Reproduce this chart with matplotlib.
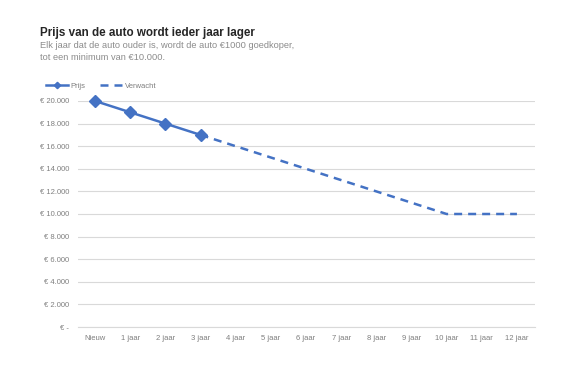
import numpy as np
import matplotlib.pyplot as plt
from matplotlib.ticker import FuncFormatter

plt.rcParams['font.family'] = ['Liberation Sans', 'DejaVu Sans']

categories = ['Nieuw', '1 jaar', '2 jaar', '3 jaar', '4 jaar', '5 jaar', '6 jaar',
              '7 jaar', '8 jaar', '9 jaar', '10 jaar', '11 jaar', '12 jaar']
prijs = [20000, 19000, 18000, 17000]
verwacht = [17000, 16000, 15000, 14000, 13000, 12000, 11000, 10000, 10000, 10000]

blue = '#4472C4'
grid_col = '#D9D9D9'
tick_col = '#7F7F7F'

fig = plt.figure(figsize=(5.7, 3.65), dpi=100)
ax = fig.add_axes([77.5 / 570, 1 - 327 / 365, (534.5 - 77.5) / 570, (327 - 101) / 365])

x = np.arange(len(categories))
ax.plot(x[:len(prijs)], prijs, color=blue, lw=1.8, marker='D', ms=6.5, label='Prijs',
        zorder=3, clip_on=False)
ax.plot(x[len(prijs) - 1:], verwacht, color=blue, lw=1.8, ls=(0, (3.2, 2.4)),
        label='Verwacht', zorder=2)

ax.set_xlim(-0.5, len(categories) - 0.5)
ax.set_ylim(0, 20000)
ax.set_yticks(np.arange(0, 20001, 2000))
ax.set_xticks(x)
ax.set_xticklabels(categories)


def euro(v, pos):
    if v == 0:
        return '€ -'
    return '€ ' + f'{int(v):,}'.replace(',', '.')


ax.yaxis.set_major_formatter(FuncFormatter(euro))
ax.grid(axis='y', color=grid_col, lw=0.8)
ax.set_axisbelow(True)
for s in ['top', 'right', 'left']:
    ax.spines[s].set_visible(False)
ax.spines['bottom'].set_color(grid_col)
ax.tick_params(length=0, labelsize=5.5, colors=tick_col, pad=6)

leg = ax.legend(loc='lower left', bbox_to_anchor=(-0.085, 1.02), ncol=2, frameon=False,
                fontsize=5.5, handlelength=3.0, columnspacing=2.0, handletextpad=0.2,
                markerscale=0.5)
for t in leg.get_texts():
    t.set_color(tick_col)

fig.text(40 / 570, 1 - 33 / 365, 'Prijs van de auto wordt ieder jaar lager',
         fontsize=8.4, fontweight='bold', color='#262626', va='center')
fig.text(40 / 570, 1 - 46 / 365, 'Elk jaar dat de auto ouder is, wordt de auto €1000 goedkoper,',
         fontsize=6.7, color='#8C8C8C', va='center')
fig.text(40 / 570, 1 - 57 / 365, 'tot een minimum van €10.000.',
         fontsize=6.7, color='#8C8C8C', va='center')

fig.savefig('out.png', dpi=100)
